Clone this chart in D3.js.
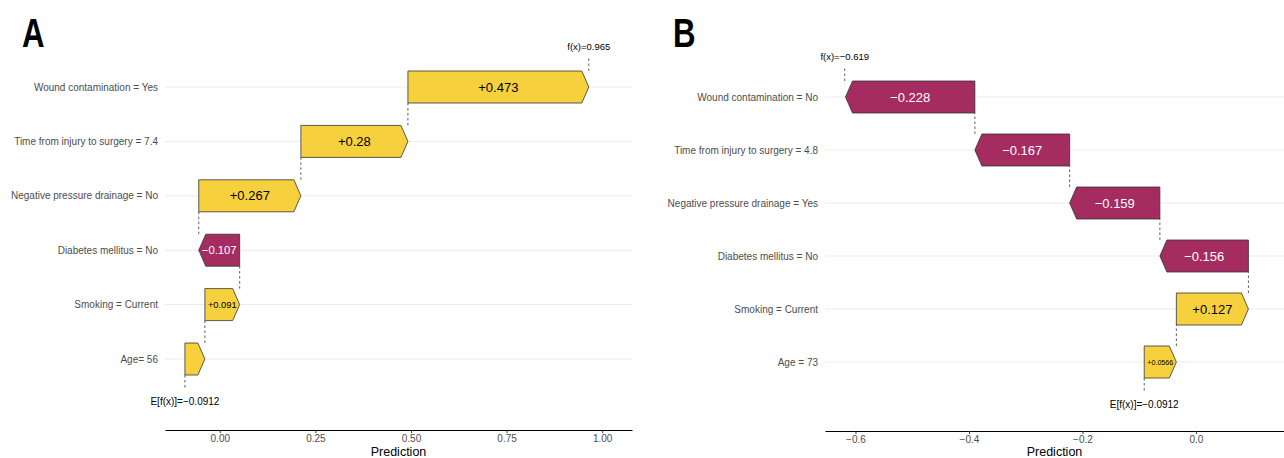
<!DOCTYPE html>
<html>
<head>
<meta charset="utf-8">
<script src="https://cdn.jsdelivr.net/npm/d3@7"></script>
<style>
  html, body { margin: 0; padding: 0; background: #fff; }
  svg { display: block; }
  text { font-family: "Liberation Sans", Arial, Helvetica, sans-serif; }
</style>
</head>
<body>
<svg id="chart" width="1284" height="458"></svg>
<script>
// Waterfall of SHAP contributions, listed from the bottom row upwards.
const featuresA = ["Age= 56", "Smoking = Current", "Diabetes mellitus = No",
  "Negative pressure drainage = No", "Time from injury to surgery = 7.4", "Wound contamination = Yes"];
const shapA = [0.0522, 0.091, -0.107, 0.267, 0.28, 0.473];
const baseA = -0.0912;
const fxA = 0.965;
const ticksA = [0, 0.25, 0.5, 0.75, 1.0];

const featuresB = ["Age = 73", "Smoking = Current", "Diabetes mellitus = No",
  "Negative pressure drainage = Yes", "Time from injury to surgery = 4.8", "Wound contamination = No"];
const shapB = [0.0566, 0.127, -0.156, -0.159, -0.167, -0.228];
const baseB = -0.0912;
const fxB = -0.619;
const ticksB = [-0.6, -0.4, -0.2, 0.0];

const POS = "#f7d13d", NEG = "#a52c60";
const svg = d3.select("#chart");
const fmtShap = d3.format("+.3~g");
const fmtVal = d3.format(".3~g");

function drawPanel(p) {
  const g = svg.append("g");
  const x = d3.scaleLinear().domain(p.domain).range([p.left, p.right]);
  const y = d3.scalePoint().domain(p.features).range([p.bottomRow, p.topRow]);
  const hh = 16;

  // panel letter (condensed bold)
  g.append("text")
    .attr("transform", `translate(${p.letterX},47) scale(0.78,1)`)
    .attr("font-weight", "bold").attr("font-size", 40).attr("fill", "#000").text(p.letter);

  // horizontal gridlines
  g.selectAll("line.grid").data(p.features).join("line")
    .attr("x1", p.left).attr("x2", p.right)
    .attr("y1", d => y(d)).attr("y2", d => y(d))
    .attr("stroke", "#ebebeb").attr("stroke-width", 1);

  // feature labels
  g.selectAll("text.ylab").data(p.features).join("text")
    .attr("x", p.left - 7).attr("y", d => y(d)).attr("dy", "0.35em")
    .attr("text-anchor", "end").attr("font-size", 10).attr("fill", "#4d4d4d")
    .text(d => d);

  // cumulative start/end of each bar
  let acc = p.base;
  const bars = p.shap.map((v, i) => {
    const b = { feature: p.features[i], value: v, start: acc, end: acc + v };
    acc += v;
    return b;
  });

  // dashed connectors between consecutive bars
  for (let i = 0; i < bars.length - 1; i++) {
    const xx = x(bars[i].end);
    g.append("line").attr("x1", xx).attr("x2", xx)
      .attr("y1", y(bars[i].feature) - hh).attr("y2", y(bars[i + 1].feature) + hh)
      .attr("stroke", "#333").attr("stroke-width", 0.8).attr("stroke-dasharray", "2.5,2.5");
  }

  // arrow-shaped bars
  const arrow = b => {
    const x0 = x(b.start), x1 = x(b.end), c = y(b.feature);
    const dir = x1 >= x0 ? 1 : -1;
    const tip = Math.min(7, Math.abs(x1 - x0));
    const xt = x1 - dir * tip;
    return `M${x0},${c - hh}L${xt},${c - hh}L${x1},${c}L${xt},${c + hh}L${x0},${c + hh}Z`;
  };
  g.selectAll("path.bar").data(bars).join("path")
    .attr("d", arrow)
    .attr("fill", d => d.value >= 0 ? POS : NEG)
    .attr("stroke", "#333").attr("stroke-width", 0.8);

  // value labels, shrunk to fit the bar
  bars.forEach(b => {
    const w = Math.abs(x(b.end) - x(b.start));
    const t = g.append("text")
      .attr("x", (x(b.start) + x(b.end)) / 2).attr("y", y(b.feature)).attr("dy", "0.36em")
      .attr("text-anchor", "middle").attr("font-size", 10)
      .attr("fill", b.value >= 0 ? "#000" : "#fff")
      .text(fmtShap(b.value));
    const perPx = t.node().getComputedTextLength() / 10;
    const size = Math.min(13, (w - 6) / perPx);
    if (size < 5) t.remove(); else t.attr("font-size", size);
  });

  // f(x) marker above the top bar
  const top = bars[bars.length - 1];
  g.append("line").attr("x1", x(p.fx)).attr("x2", x(p.fx))
    .attr("y1", y(top.feature) - hh).attr("y2", y(top.feature) - hh - 15)
    .attr("stroke", "#333").attr("stroke-width", 0.8).attr("stroke-dasharray", "2.5,2.5");
  g.append("text").attr("x", x(p.fx)).attr("y", y(top.feature) - hh - 21)
    .attr("text-anchor", "middle").attr("font-size", 9.5).attr("fill", "#000")
    .text("f(x)=" + fmtVal(p.fx));

  // E[f(x)] marker below the bottom bar
  const bot = bars[0];
  g.append("line").attr("x1", x(p.base)).attr("x2", x(p.base))
    .attr("y1", y(bot.feature) + hh).attr("y2", y(bot.feature) + hh + 13)
    .attr("stroke", "#333").attr("stroke-width", 0.8).attr("stroke-dasharray", "2.5,2.5");
  g.append("text").attr("x", x(p.base)).attr("y", y(bot.feature) + hh + 30)
    .attr("text-anchor", "middle").attr("font-size", 10).attr("fill", "#000")
    .text("E[f(x)]=" + fmtVal(p.base));

  // x axis
  const ax = g.append("g").attr("transform", `translate(0,${p.axisY})`)
    .call(d3.axisBottom(x).tickValues(p.ticks).tickFormat(d3.format(p.tickFmt))
      .tickSize(3).tickPadding(1.5).tickSizeOuter(0));
  ax.select(".domain").attr("stroke", "#000").attr("stroke-width", 1.2);
  ax.selectAll(".tick line").attr("stroke", "#333");
  ax.selectAll(".tick text").attr("fill", "#4d4d4d").attr("font-size", 10)
    .attr("font-family", "'Liberation Sans', Arial, sans-serif");

  g.append("text").attr("x", (p.left + p.right) / 2).attr("y", 456)
    .attr("text-anchor", "middle").attr("font-size", 12.5).attr("fill", "#000")
    .text("Prediction");
}

drawPanel({
  letter: "A", letterX: 22, features: featuresA, shap: shapA, base: baseA, fx: fxA,
  ticks: ticksA, tickFmt: ".2f", domain: [-0.1433, 1.078], left: 165, right: 632,
  topRow: 87, bottomRow: 359, axisY: 430
});
drawPanel({
  letter: "B", letterX: 673, features: featuresB, shap: shapB, base: baseB, fx: fxB,
  ticks: ticksB, tickFmt: ".1f", domain: [-0.6537, 0.1551], left: 825, right: 1284,
  topRow: 97, bottomRow: 362, axisY: 431
});
</script>
</body>
</html>
